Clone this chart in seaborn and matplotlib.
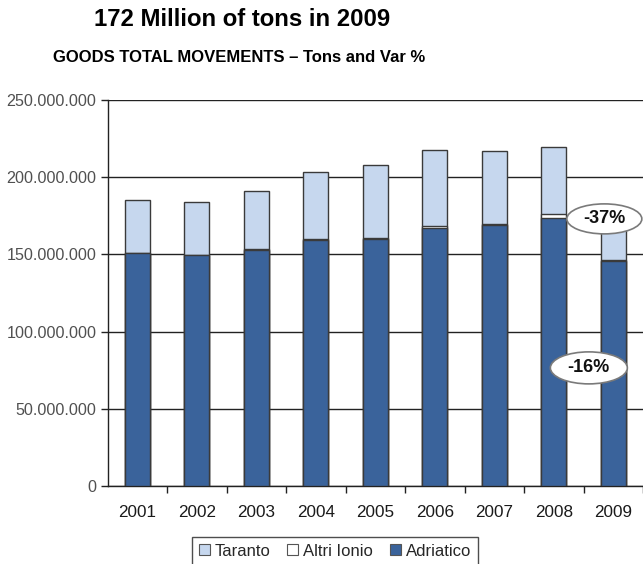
import matplotlib
matplotlib.use("Agg")
import matplotlib.pyplot as plt
import seaborn as sns
import pandas as pd
from matplotlib.patches import Patch, Ellipse
from matplotlib.ticker import FuncFormatter, FixedLocator

# ---- data (tons) ----
years = ["2001", "2002", "2003", "2004", "2005", "2006", "2007", "2008", "2009"]
adriatico = [150.7e6, 149.4e6, 153.0e6, 159.3e6, 160.0e6, 167.4e6, 168.9e6, 173.8e6, 145.9e6]
altri_ionio = [0.3e6, 0.3e6, 0.8e6, 0.7e6, 0.5e6, 0.8e6, 0.8e6, 2.3e6, 0.6e6]
taranto = [34.2e6, 34.5e6, 37.3e6, 43.2e6, 47.6e6, 49.4e6, 47.3e6, 43.3e6, 27.3e6]
series_names = ["Taranto", "Altri Ionio", "Adriatico"]
var_labels = ["-37%", "-16%"]
title = "172 Million of tons in 2009"
subtitle = "GOODS TOTAL MOVEMENTS \u2013 Tons and Var %"

df = pd.DataFrame({"year": years, "adriatico": adriatico,
                   "altri": altri_ionio, "taranto": taranto})
df["lower2"] = df["adriatico"] + df["altri"]
df["total"] = df["lower2"] + df["taranto"]

c_taranto = "#C6D7EE"
c_altri = "#FFFFFF"
c_adriatico = "#3A639B"
edge = "#3a3a3a"

sns.set_theme(style="white")
plt.rcParams["font.family"] = ["Liberation Sans", "DejaVu Sans"]

fig = plt.figure(figsize=(6.43, 5.64), dpi=100)
ax = fig.add_axes([107.5 / 643, 1 - 486 / 564, 1 - 107.5 / 643, (486 - 100) / 564])

bw = 0.42
for col, colr in [("total", c_taranto), ("lower2", c_altri), ("adriatico", c_adriatico)]:
    sns.barplot(data=df, x="year", y=col, order=years, color=colr, saturation=1,
                width=bw, edgecolor=edge, linewidth=1.0, errorbar=None, ax=ax, zorder=3)

ax.set_xlim(-0.5, len(years) - 0.5)
ax.set_ylim(0, 250e6)
ax.set_yticks([0, 50e6, 100e6, 150e6, 200e6, 250e6])
ax.yaxis.set_major_formatter(FuncFormatter(lambda v, p: f"{v:,.0f}".replace(",", ".")))
ax.yaxis.grid(True, color="#222222", linewidth=1.0, zorder=0)
ax.set_axisbelow(True)
ax.set_xlabel("")
ax.set_ylabel("")

for s in ["top", "right"]:
    ax.spines[s].set_visible(False)
for s in ["left", "bottom"]:
    ax.spines[s].set_color("#222222")
    ax.spines[s].set_linewidth(1.0)

ax.tick_params(axis="y", which="major", left=True, length=5, width=1, color="#222222",
               labelsize=11.6, labelcolor="#505050", pad=3)
ax.tick_params(axis="x", which="major", bottom=False, length=0, labelsize=12.3,
               labelcolor="#1a1a1a", pad=14)
ax.xaxis.set_minor_locator(FixedLocator([i + 0.5 for i in range(len(years))]))
ax.tick_params(axis="x", which="minor", bottom=True, length=5, width=1, color="#222222")

# variation ellipses
ypx = 250e6 / 386.0  # tons per pixel
xpx = 1 / 59.5       # categories per pixel
for (txt, cx, cy, w, h) in [(var_labels[0], 7.85, 173.0e6, 75, 30),
                            (var_labels[1], 7.59, 76.5e6, 77, 32)]:
    e = Ellipse((cx, cy), w * xpx, h * ypx, facecolor="white", edgecolor="#7a7a7a",
                linewidth=1.2, zorder=6, clip_on=False)
    ax.add_patch(e)
    ax.text(cx, cy, txt, ha="center", va="center", fontsize=13, fontweight="bold",
            color="#111111", zorder=7)

fig.text(242 / 643, 1 - 20 / 564, title, ha="center", va="center",
         fontsize=17.2, fontweight="bold", color="black")
fig.text(239 / 643, 1 - 58 / 564, subtitle, ha="center", va="center",
         fontsize=12, fontweight="bold", color="black")

handles = [Patch(facecolor=c_taranto, edgecolor="#555555", linewidth=0.8),
           Patch(facecolor=c_altri, edgecolor="#555555", linewidth=0.8),
           Patch(facecolor=c_adriatico, edgecolor="#555555", linewidth=0.8)]
leg = fig.legend(handles, series_names, loc="upper center",
                 bbox_to_anchor=(335 / 643, 1 - 537 / 564), ncol=3, frameon=True,
                 fancybox=False, edgecolor="#222222", fontsize=12,
                 handlelength=0.65, handleheight=0.65, handletextpad=0.3,
                 columnspacing=1.0, borderpad=0.4, borderaxespad=0)
leg.get_frame().set_linewidth(1.0)

fig.savefig("out.png", dpi=100)
